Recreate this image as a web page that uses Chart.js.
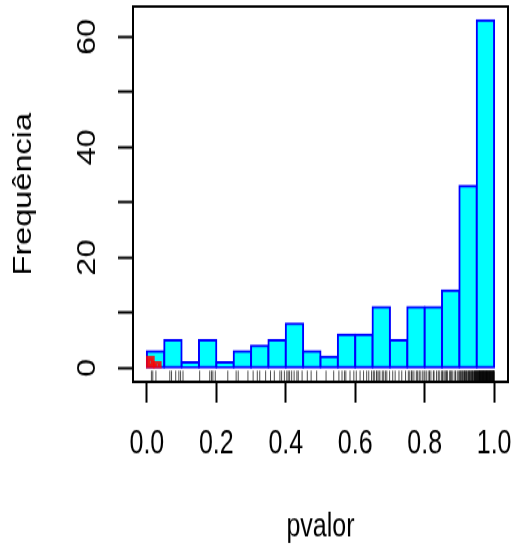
<!DOCTYPE html>
<html>
<head>
<meta charset="utf-8">
<script src="https://cdn.jsdelivr.net/npm/chart.js@4"></script>
<style>
  html, body { margin: 0; padding: 0; background: #fff; }
</style>
</head>
<body>
<!-- drawn at 425px tall and stretched to the page height -->
<canvas id="hist" width="516" height="425" style="display:block;width:516px;height:552px"></canvas>
<script>
const binEdges = [0, 0.05, 0.1, 0.15, 0.2, 0.25, 0.3, 0.35, 0.4, 0.45, 0.5, 0.55, 0.6, 0.65, 0.7, 0.75, 0.8, 0.85, 0.9, 0.95, 1];
const binCounts = [3, 5, 1, 5, 1, 3, 4, 5, 8, 3, 2, 6, 6, 11, 5, 11, 11, 14, 33, 63];

// p-values below 0.05, finer bins
const smallEdges = [0, 0.02, 0.04];
const smallCounts = [2, 1];

const xTicks = [0, 0.2, 0.4, 0.6, 0.8, 1];
const yTicks = [0, 10, 20, 30, 40, 50, 60];
const yLabels = [0, 20, 40, 60];

// individual p-values for the rug
const rugValues = [
  0.013, 0.017, 0.026,
  0.066, 0.071, 0.083, 0.092, 0.097,
  0.104,
  0.152, 0.181, 0.186, 0.190, 0.197,
  0.233,
  0.257, 0.263, 0.291,
  0.306, 0.318, 0.325, 0.342,
  0.356, 0.367, 0.383, 0.388, 0.396,
  0.403, 0.407, 0.411, 0.417, 0.424, 0.432, 0.436, 0.447,
  0.462, 0.473, 0.489,
  0.516, 0.538,
  0.553, 0.562, 0.569, 0.573, 0.585, 0.596,
  0.603, 0.614, 0.624, 0.633, 0.639, 0.647,
  0.652, 0.655, 0.661, 0.663, 0.668, 0.671, 0.678, 0.682, 0.687, 0.691, 0.699,
  0.708, 0.715, 0.726, 0.734, 0.745,
  0.753, 0.757, 0.762, 0.764, 0.769, 0.776, 0.779, 0.784, 0.787, 0.793, 0.798,
  0.801, 0.806, 0.812, 0.814, 0.818, 0.825, 0.827, 0.834, 0.839, 0.842, 0.848,
  0.851, 0.853, 0.858, 0.861, 0.863, 0.866, 0.872, 0.874, 0.877, 0.881, 0.887, 0.889, 0.894, 0.898,
  0.901, 0.902, 0.904, 0.907, 0.908, 0.910, 0.913, 0.914, 0.915, 0.918, 0.919, 0.921, 0.922, 0.925, 0.926, 0.928,
  0.929, 0.931, 0.933, 0.934, 0.936, 0.937, 0.938, 0.940, 0.942, 0.943, 0.944, 0.945, 0.946, 0.947, 0.948, 0.949, 0.950,
  0.951, 0.952, 0.953, 0.954, 0.955, 0.956, 0.957, 0.958, 0.958, 0.959, 0.960, 0.961, 0.962, 0.962, 0.963, 0.964,
  0.965, 0.966, 0.966, 0.967, 0.968, 0.969, 0.970, 0.970, 0.971, 0.972, 0.973, 0.974, 0.974, 0.975, 0.976, 0.977,
  0.978, 0.978, 0.979, 0.980, 0.981, 0.982, 0.982, 0.983, 0.984, 0.985, 0.986, 0.986, 0.987, 0.988, 0.989, 0.990,
  0.990, 0.991, 0.992, 0.993, 0.994, 0.994, 0.995, 0.996, 0.997, 0.997, 0.998, 0.999, 0.999, 0.9995, 1.000
];

// plot range padded by 4% like R does
const xMin = -0.04, xMax = 1.04;
const yMin = -2.52, yMax = 65.52;

const FONT = '"Liberation Sans", Arial, Helvetica, sans-serif';
Chart.defaults.font.family = FONT;
Chart.defaults.color = "#000";

const toBars = (edges, counts) =>
  counts.map((c, i) => ({ x: (edges[i] + edges[i + 1]) / 2, y: c }));

const frame = {
  id: "frame",
  afterDatasetsDraw(chart) {
    const { ctx, chartArea: a, scales } = chart;
    const x = scales.x, y = scales.y;
    ctx.save();

    // rug ticks, 3% of the plot height
    const rugLen = (a.bottom - a.top) * 0.03;
    ctx.strokeStyle = "#000";
    ctx.lineWidth = 0.7;
    ctx.beginPath();
    rugValues.forEach((v) => {
      const px = x.getPixelForValue(v);
      ctx.moveTo(px, a.bottom);
      ctx.lineTo(px, a.bottom - rugLen);
    });
    ctx.stroke();

    // box round the plot
    ctx.lineWidth = 2;
    ctx.strokeRect(a.left, a.top, a.right - a.left, a.bottom - a.top);

    // y labels run along the axis
    ctx.fillStyle = "#000";
    ctx.font = "25px " + FONT;
    ctx.textAlign = "center";
    ctx.textBaseline = "alphabetic";
    yLabels.forEach((v) => {
      ctx.save();
      ctx.translate(a.left - 38.5, y.getPixelForValue(v));
      ctx.rotate(-Math.PI / 2);
      ctx.fillText(String(v), 0, 0);
      ctx.restore();
    });
    ctx.restore();
  },
};

new Chart("hist", {
  type: "bar",
  data: {
    datasets: [
      {
        data: toBars(smallEdges, smallCounts),
        xAxisID: "x2",
        backgroundColor: "rgba(255, 0, 0, 0.55)",
        borderColor: "rgba(255, 0, 0, 0.85)",
        borderWidth: 2,
        borderSkipped: false,
        inflateAmount: 1,
        barPercentage: 1,
        categoryPercentage: 1,
        grouped: false,
        order: 0,
      },
      {
        data: toBars(binEdges, binCounts),
        xAxisID: "x",
        backgroundColor: "#00ffff",
        borderColor: "#0000ff",
        borderWidth: 2,
        borderSkipped: false,
        inflateAmount: 1,
        barPercentage: 1,
        categoryPercentage: 1,
        grouped: false,
        order: 1,
      },
    ],
  },
  options: {
    responsive: false,
    maintainAspectRatio: false,
    animation: false,
    events: [],
    layout: { padding: { top: 5, right: 8, left: 0, bottom: 0 } },
    plugins: { legend: { display: false }, tooltip: { enabled: false } },
    scales: {
      x: {
        type: "linear",
        min: xMin,
        max: xMax,
        offset: false,
        afterBuildTicks: (s) => { s.ticks = xTicks.map((v) => ({ value: v })); },
        afterFit: (s) => {
          s.height = 131;
          // let the end labels hang past the plot instead of shrinking it
          s.paddingLeft = 0;
          s.paddingRight = 0;
        },
        grid: { offset: false, drawOnChartArea: false, tickLength: 16, tickWidth: 2, tickColor: "#000" },
        border: { display: false },
        ticks: {
          padding: 17,
          maxRotation: 0,
          autoSkip: false,
          font: { size: 25 },
          callback: (v) => v.toFixed(1),
        },
        title: { display: true, text: "pvalor", font: { size: 25 }, padding: { top: 0, bottom: 4 } },
      },
      x2: { type: "linear", min: xMin, max: xMax, offset: false, display: false },
      y: {
        min: yMin,
        max: yMax,
        afterBuildTicks: (s) => { s.ticks = yTicks.map((v) => ({ value: v })); },
        afterFit: (s) => { s.width = 133; },
        grid: { drawOnChartArea: false, tickLength: 15, tickWidth: 2, tickColor: "#000" },
        border: { display: false },
        ticks: { display: false },
        title: { display: true, text: "Frequência", font: { size: 25 }, padding: { top: 9, bottom: 0 } },
      },
    },
  },
  plugins: [frame],
});
</script>
</body>
</html>
